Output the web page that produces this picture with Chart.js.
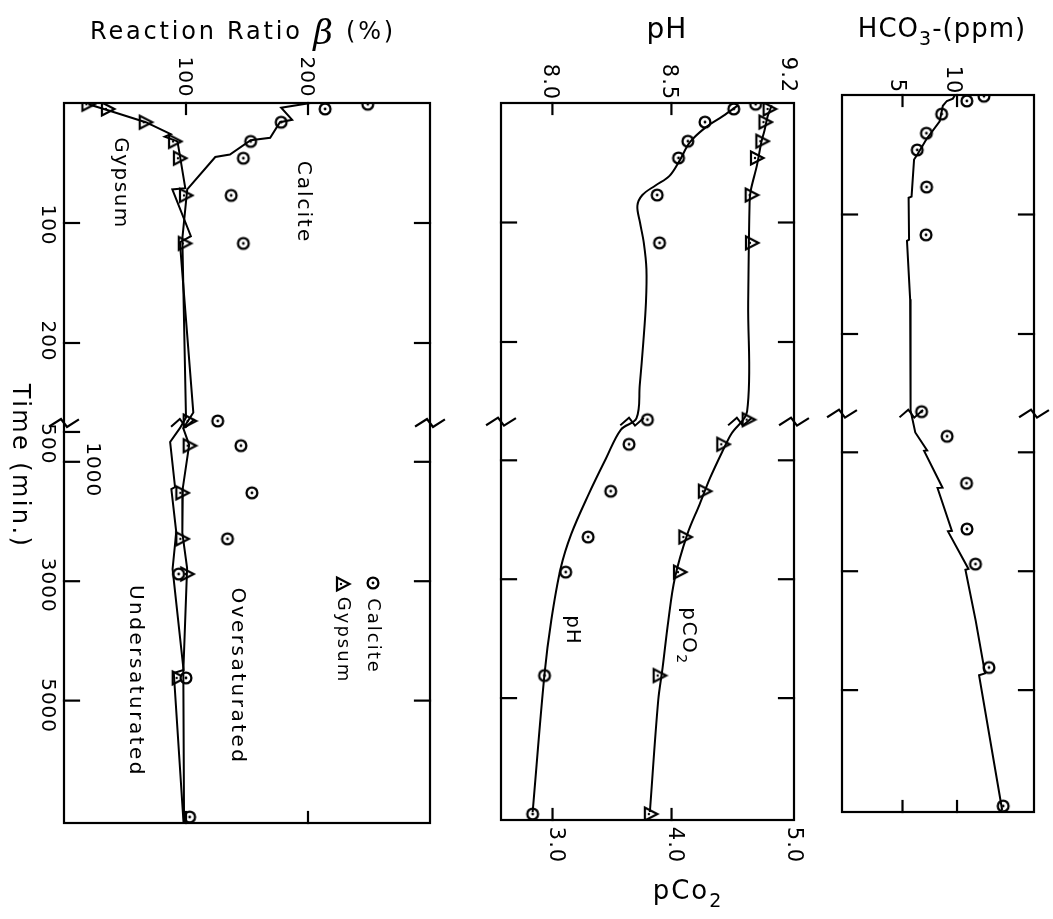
<!DOCTYPE html>
<html>
<head>
<meta charset="utf-8">
<script src="https://cdn.jsdelivr.net/npm/chart.js@4.4.1/dist/chart.umd.min.js"></script>
<style>
  html, body { margin: 0; padding: 0; background: #fff; }
  #wrap { position: relative; width: 1053px; height: 919px; }
  #wrap canvas { position: absolute; left: 0; top: 0; }
</style>
</head>
<body>
<div id="wrap">
  <canvas id="ratioChart" width="1053" height="919"></canvas>
  <canvas id="phChart" width="1053" height="919"></canvas>
  <canvas id="hco3Chart" width="1053" height="919"></canvas>
</div>
<script>
// ---- measured points (min) shared by all three panels ----
const sampleTimes   = [1, 5, 16, 32, 46, 77, 117, 265, 730, 1520, 2290, 2880, 4620, 6950];
const calciteBeta   = [249, 214, 178, 153, 147, 137, 147, 126, 145, 154, 134, 94, 100, 103];
const gypsumBeta    = [20, 36, 67, 91, 95, 100, 99, 103, 103, 97, 97, 101, 94, null];
const measuredPH    = [8.854, 8.762, 8.641, 8.569, 8.530, 8.440, 8.450, 8.399, 8.322, 8.245, 8.150, 8.056, 7.967, 7.917];
const measuredPCO2  = [null, 4.824, 4.789, 4.763, 4.718, 4.673, 4.676, 4.648, 4.435, 4.280, 4.116, 4.071, 3.900, 3.826];
const measuredHCO3  = [12.47, 10.90, 8.59, 7.19, 6.35, 7.21, 7.16, 6.75, 9.09, 10.87, 10.91, 11.69, 12.93, 14.23];

// ---- calculated curves ----
const calciteModelT    = [0, 4, 14, 16, 29, 31, 43, 45, 72, 113, 262, 437, 668, 1422, 1456, 2176, 2795, 4487, 4537, 7050];
const calciteModelBeta = [202, 178, 187, 177, 169, 153, 136, 124, 101, 97, 100, 95, 87, 91, 88, 92, 89, 98, 90, 98];
const gypsumModelT     = [1, 6, 16, 26, 28, 32, 42, 71, 72, 111, 116, 258, 440, 718, 1438, 2192, 2779, 4521, 7050];
const gypsumModelBeta  = [20, 36, 67, 87.5, 82.6, 93, 94.7, 99.4, 88.8, 104, 95, 106, 97.8, 102.6, 97.4, 97, 100.9, 97.8, 98.4];

const phModelT   = [2, 11, 21, 33, 48, 61, 69, 77, 86, 100, 117, 139, 167, 200, 236, 264, 483, 970, 1573, 2242, 2813, 3699, 4588, 6915];
const phModel    = [8.78, 8.716, 8.640, 8.577, 8.535, 8.492, 8.433, 8.378, 8.357, 8.368, 8.384, 8.395, 8.393, 8.382, 8.367, 8.353, 8.288, 8.225, 8.152, 8.079, 8.035, 7.995, 7.967, 7.917];
const pco2ModelT = [2, 11, 23, 33, 52, 73, 83, 167, 258, 552, 819, 1301, 1740, 2242, 2980, 3699, 4487, 5040, 6915];
const pco2Model  = [4.842, 4.808, 4.781, 4.754, 4.718, 4.666, 4.656, 4.644, 4.635, 4.503, 4.435, 4.323, 4.236, 4.133, 4.028, 3.973, 3.925, 3.888, 3.818];

const hco3ModelT = [0, 3, 5, 9, 22, 37, 50, 54, 85, 86, 121, 122, 171, 264, 666, 970, 975, 1595, 1600, 2321, 2330, 2962, 2975, 3840, 4718, 4750, 7016];
const hco3Model  = [9.82, 9.62, 9.07, 8.70, 8.41, 7.19, 6.35, 6.06, 5.83, 5.56, 5.60, 5.41, 5.70, 5.74, 6.17, 7.26, 6.98, 8.67, 8.21, 9.53, 9.17, 11.05, 10.77, 11.72, 12.57, 12.02, 14.14];

// ---- axis ticks ----
const timeTicksLeft1 = [100, 200, 500, 1000, 3000, 5000];
const timeTicks      = [100, 200, 1000, 3000, 5000];
const betaTicks      = [100, 200];
const phTicks        = [8.0, 8.5, 9.0];
const phTickLabels   = ['8.0', '8.5', '9.2'];
const pco2Ticks      = [3.0, 4.0, 5.0];
const hco3Ticks      = [5, 10];

const INK = '#000';
const FONT = '"DejaVu Sans", "Liberation Sans", sans-serif';

// The time axis is linear up to the break, then squeezed 20x
const BREAK_END = 270;
const BREAK_RESUME = 417;
const LOWER_SQUEEZE = 20.1;
const AXIS_UNITS = 600;

function timeToAxis(t) {
  if (t <= BREAK_END) return t;
  return BREAK_END + Math.max(0, t - BREAK_RESUME) / LOWER_SQUEEZE;
}

class BrokenTimeScale extends Chart.LinearScale {
  getPixelForValue(value) {
    return super.getPixelForValue(timeToAxis(value));
  }
}
BrokenTimeScale.id = 'brokenTime';
Chart.register(BrokenTimeScale);

function pairs(times, values) {
  return times.map((t, i) => ({ x: values[i], y: t })).filter(p => p.x !== null);
}

// open circle with a dot, like the hand-drawn markers
function circleMark() {
  const c = document.createElement('canvas');
  c.width = c.height = 16;
  const g = c.getContext('2d');
  g.lineWidth = 2.3; g.strokeStyle = INK; g.fillStyle = '#fff';
  g.beginPath(); g.arc(8, 8, 5.4, 0, Math.PI * 2); g.fill(); g.stroke();
  g.fillStyle = INK;
  g.beginPath(); g.arc(8, 8, 1.4, 0, Math.PI * 2); g.fill();
  return c;
}

// triangle pointing right (the page is turned sideways)
function triangleMark() {
  const c = document.createElement('canvas');
  c.width = c.height = 18;
  const g = c.getContext('2d');
  g.lineWidth = 2.2; g.strokeStyle = INK; g.fillStyle = '#fff';
  g.lineJoin = 'miter';
  g.beginPath(); g.moveTo(3, 2.5); g.lineTo(3, 15.5); g.lineTo(15.5, 9); g.closePath(); g.fill(); g.stroke();
  g.fillStyle = INK;
  g.beginPath(); g.arc(7, 9, 1.2, 0, Math.PI * 2); g.fill();
  return c;
}

const CIRCLE = circleMark();
const TRIANGLE = triangleMark();

function lineSet(times, values, tension) {
  return {
    data: pairs(times, values),
    showLine: true,
    borderColor: INK,
    borderWidth: 2,
    pointRadius: 0,
    tension: tension || 0
  };
}

function markSet(times, values, mark) {
  return {
    data: pairs(times, values),
    showLine: false,
    pointStyle: mark,
    pointRadius: 6
  };
}

// text helper: parts may be subscripts / other fonts; rotate turns the text to read downwards
function drawText(ctx, parts, x, y, size, spacing, rotate) {
  if (typeof parts === 'string') parts = [{ t: parts }];
  ctx.save();
  ctx.translate(x, y);
  if (rotate) ctx.rotate(Math.PI / 2);
  ctx.fillStyle = INK;
  ctx.textBaseline = 'middle';
  ctx.textAlign = 'left';
  ctx.letterSpacing = (spacing || 0) + 'px';
  const fontOf = p => (p.italic ? 'italic ' : '') + Math.round(p.sub ? size * 0.72 : (p.size || size)) + 'px ' + (p.family || FONT);
  let total = 0;
  parts.forEach(p => { ctx.font = fontOf(p); total += ctx.measureText(p.t).width; });
  let cx = -total / 2;
  parts.forEach(p => {
    ctx.font = fontOf(p);
    ctx.fillText(p.t, cx, p.sub ? size * 0.38 : (p.dy || 0));
    cx += ctx.measureText(p.t).width;
  });
  ctx.restore();
}

function hTick(ctx, x, y, len) {
  ctx.beginPath(); ctx.moveTo(x, y); ctx.lineTo(x + len, y); ctx.stroke();
}
function vTick(ctx, x, y, len) {
  ctx.beginPath(); ctx.moveTo(x, y); ctx.lineTo(x, y + len); ctx.stroke();
}
function zigzag(ctx, x, y, w) {
  ctx.beginPath();
  ctx.moveTo(x - w, y + 3);
  ctx.lineTo(x - 3, y - 4);
  ctx.lineTo(x + 3, y + 4);
  ctx.lineTo(x + w, y - 3);
  ctx.stroke();
}

// frame, inward ticks, break marks and panel text
function framePlugin(cfg) {
  return {
    id: 'frame',
    afterDatasetsDraw(chart) {
      const ctx = chart.ctx;
      const a = chart.chartArea;
      const ys = chart.scales.y;
      ctx.save();
      ctx.strokeStyle = INK;
      ctx.lineWidth = 2.2;
      ctx.lineCap = 'square';
      ctx.strokeRect(a.left, a.top, a.right - a.left, a.bottom - a.top);
      cfg.leftTicks.forEach(t => hTick(ctx, a.left, ys.getPixelForValue(t), 15));
      cfg.rightTicks.forEach(t => hTick(ctx, a.right, ys.getPixelForValue(t), -15));
      cfg.topTicks.forEach(v => vTick(ctx, chart.scales[cfg.topScale].getPixelForValue(v), a.top, 11));
      cfg.bottomTicks.forEach(v => vTick(ctx, chart.scales[cfg.bottomScale].getPixelForValue(v), a.bottom, -11));

      const yb = ys.getPixelForValue(BREAK_END) - 4;
      zigzag(ctx, a.left, yb, 14);
      zigzag(ctx, a.right, yb, 14);
      // small break marks where the curves cross the break
      ctx.lineWidth = 2;
      cfg.brokenLines.forEach(i => {
        const pts = chart.getDatasetMeta(i).data;
        for (let k = 1; k < pts.length; k++) {
          if (pts[k].y >= yb && pts[k - 1].y < yb) {
            const f = (yb - pts[k - 1].y) / (pts[k].y - pts[k - 1].y);
            const x = pts[k - 1].x + f * (pts[k].x - pts[k - 1].x);
            zigzag(ctx, x, yb, 11);
            break;
          }
        }
      });
      cfg.text(ctx, chart);
      ctx.restore();
    }
  };
}

function baseOptions(area, xScales) {
  return {
    responsive: false,
    animation: false,
    events: [],
    layout: { padding: { left: area.left, right: 1053 - area.right, top: area.top, bottom: 919 - area.bottom } },
    scales: Object.assign({
      y: { type: 'brokenTime', min: 0, max: AXIS_UNITS, reverse: true, display: false }
    }, xScales),
    plugins: { legend: { display: false }, tooltip: { enabled: false } }
  };
}

// ---------------- Panel 1: reaction ratio ----------------
new Chart(document.getElementById('ratioChart'), {
  type: 'scatter',
  data: {
    datasets: [
      lineSet(calciteModelT, calciteModelBeta),
      lineSet(gypsumModelT, gypsumModelBeta),
      markSet(sampleTimes, calciteBeta, CIRCLE),
      markSet(sampleTimes, gypsumBeta, TRIANGLE)
    ]
  },
  options: baseOptions({ left: 64, right: 430, top: 103, bottom: 823 }, {
    x: { type: 'linear', min: 0, max: 300, display: false }
  }),
  plugins: [framePlugin({
    leftTicks: timeTicksLeft1,
    rightTicks: timeTicks,
    topScale: 'x', topTicks: betaTicks,
    bottomScale: 'x', bottomTicks: betaTicks,
    brokenLines: [0],
    text(ctx, chart) {
      const xs = chart.scales.x, ys = chart.scales.y;
      drawText(ctx, [{ t: 'Reaction Ratio ' }, { t: 'β', italic: true, size: 34, family: '"DejaVu Serif", serif', dy: 2 }, { t: ' (%)' }], 243, 33, 24, 2.8);
      betaTicks.forEach(v => drawText(ctx, String(v), xs.getPixelForValue(v) - 2, 77, 20, 1, true));
      const leftLabelX = { 1000: 92 };
      const leftLabelDy = { 100: 2, 200: -2, 500: 12, 1000: 8, 3000: 4, 5000: 5 };
      timeTicksLeft1.forEach(t => drawText(ctx, String(t), leftLabelX[t] || 47, ys.getPixelForValue(t) + leftLabelDy[t], 20, 1, true));
      drawText(ctx, 'Time (min.)', 19, 466, 24, 2.4, true);
      drawText(ctx, 'Gypsum', 120, 183, 20, 1.5, true);
      drawText(ctx, 'Calcite', 303, 202, 20, 2, true);
      drawText(ctx, 'Oversaturated', 237, 676, 20, 2.5, true);
      drawText(ctx, 'Undersaturated', 135, 681, 20, 2.5, true);
      // legend
      ctx.drawImage(CIRCLE, 373 - 8, 583 - 8);
      ctx.drawImage(TRIANGLE, 343 - 9, 584 - 9);
      drawText(ctx, 'Calcite', 373, 636, 18, 2, true);
      drawText(ctx, 'Gypsum', 343, 640, 18, 2, true);
    }
  })]
});

// ---------------- Panel 2: pH and pCO2 ----------------
new Chart(document.getElementById('phChart'), {
  type: 'scatter',
  data: {
    datasets: [
      Object.assign(lineSet(phModelT, phModel, 0.35), { xAxisID: 'xph' }),
      Object.assign(lineSet(pco2ModelT, pco2Model, 0.35), { xAxisID: 'xco2' }),
      Object.assign(markSet(sampleTimes, measuredPH, CIRCLE), { xAxisID: 'xph' }),
      Object.assign(markSet(sampleTimes, measuredPCO2, TRIANGLE), { xAxisID: 'xco2' })
    ]
  },
  options: baseOptions({ left: 501, right: 794, top: 103, bottom: 820 }, {
    xph: { type: 'linear', axis: 'x', position: 'top', min: 7.784, max: 9.015, display: false },
    xco2: { type: 'linear', axis: 'x', position: 'bottom', min: 2.567, max: 5.029, display: false }
  }),
  plugins: [framePlugin({
    leftTicks: timeTicks,
    rightTicks: timeTicks,
    topScale: 'xph', topTicks: [8.0, 8.5],
    bottomScale: 'xco2', bottomTicks: [3.0, 4.0],
    brokenLines: [0, 1],
    text(ctx, chart) {
      const xp = chart.scales.xph, xc = chart.scales.xco2;
      drawText(ctx, 'pH', 667, 31, 28, 1);
      phTicks.forEach((v, i) => drawText(ctx, phTickLabels[i], i === 2 ? 787 : xp.getPixelForValue(v) - 3, i === 2 ? 75 : 82, 21, 1, true));
      pco2Ticks.forEach(v => drawText(ctx, v.toFixed(1), xc.getPixelForValue(v) + 3, 845, 21, 1, true));
      drawText(ctx, [{ t: 'pCo' }, { t: '2', sub: true }], 688, 892, 26, 2);
      drawText(ctx, 'pH', 572, 630, 20, 1, true);
      drawText(ctx, [{ t: 'pCO' }, { t: '2', sub: true }], 688, 636, 20, 1.5, true);
    }
  })]
});

// ---------------- Panel 3: bicarbonate ----------------
new Chart(document.getElementById('hco3Chart'), {
  type: 'scatter',
  data: {
    datasets: [
      lineSet(hco3ModelT, hco3Model),
      markSet(sampleTimes, measuredHCO3, CIRCLE)
    ]
  },
  options: baseOptions({ left: 842, right: 1034, top: 95, bottom: 812 }, {
    x: { type: 'linear', min: -0.55, max: 17.06, display: false }
  }),
  plugins: [framePlugin({
    leftTicks: timeTicks,
    rightTicks: timeTicks,
    topScale: 'x', topTicks: hco3Ticks,
    bottomScale: 'x', bottomTicks: hco3Ticks,
    brokenLines: [0],
    text(ctx, chart) {
      const xs = chart.scales.x;
      drawText(ctx, [{ t: 'HCO' }, { t: '3', sub: true }, { t: '-(ppm)' }], 942, 30, 26, 1);
      drawText(ctx, '5', xs.getPixelForValue(5) - 6, 86, 21, 1, true);
      drawText(ctx, '10', xs.getPixelForValue(10) - 5, 80, 21, 1, true);
    }
  })]
});
</script>
</body>
</html>
